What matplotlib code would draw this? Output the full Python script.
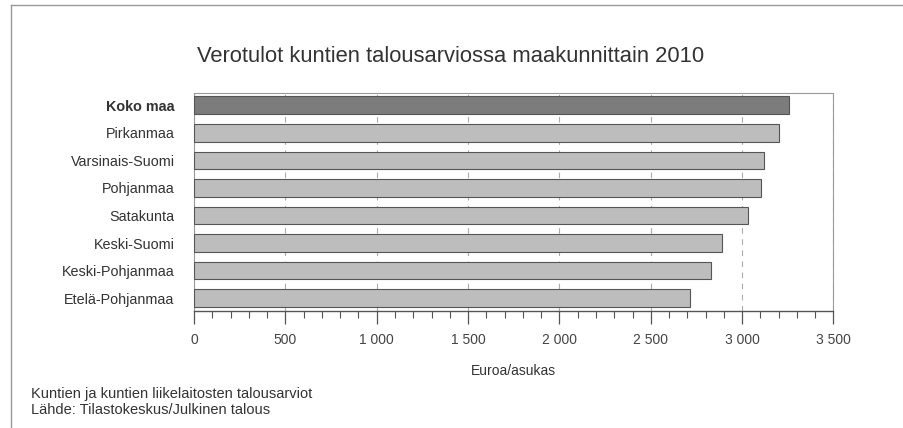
import matplotlib.pyplot as plt
from matplotlib.ticker import MultipleLocator, FuncFormatter
from matplotlib.lines import Line2D

# Data (euroa / asukas)
regions = ['Koko maa', 'Pirkanmaa', 'Varsinais-Suomi', 'Pohjanmaa',
           'Satakunta', 'Keski-Suomi', 'Keski-Pohjanmaa', 'Etelä-Pohjanmaa']
values = [3257, 3200, 3118, 3103, 3032, 2890, 2831, 2714]

title = 'Verotulot kuntien talousarviossa maakunnittain 2010'
xlabel = 'Euroa/asukas'
footer = ['Kuntien ja kuntien liikelaitosten talousarviot',
          'Lähde: Tilastokeskus/Julkinen talous']

plt.rcParams['font.family'] = ['Liberation Sans', 'DejaVu Sans']


def fmt_thousands(x, pos):
    return '{:,.0f}'.format(x).replace(',', ' ')


def main():
    fig = plt.figure(figsize=(9.04, 4.28), dpi=100)
    ax = fig.add_axes([0.2146, 0.274, 0.7074, 0.5093])

    ypos = list(range(len(regions)))
    colors = ['#7c7c7c'] + ['#bdbdbd'] * (len(regions) - 1)
    ax.barh(ypos, values, height=0.65, color=colors, edgecolor='#555555',
            linewidth=0.8, zorder=3)

    ax.set_xlim(0, 3500)
    ax.set_ylim(7.46, -0.46)
    ax.xaxis.set_major_locator(MultipleLocator(500))
    ax.xaxis.set_minor_locator(MultipleLocator(100))
    ax.xaxis.set_major_formatter(FuncFormatter(fmt_thousands))
    ax.grid(axis='x', which='major', color='#aaaaaa', linestyle=(0, (5, 5)),
            linewidth=0.8, zorder=0)

    ax.set_yticks(ypos)
    ax.set_yticklabels(regions, fontsize=10.4, color='#333333')
    ax.get_yticklabels()[0].set_fontweight('bold')
    ax.tick_params(axis='y', length=0, pad=14)
    ax.tick_params(axis='x', which='major', length=9, width=0.9,
                   color='#555555', labelsize=10, labelcolor='#444444', pad=7)
    ax.tick_params(axis='x', which='minor', length=5, width=0.8, color='#555555')

    for side in ['top', 'right', 'left']:
        ax.spines[side].set_color('#999999')
        ax.spines[side].set_linewidth(0.8)
    ax.spines['bottom'].set_color('#555555')
    ax.spines['bottom'].set_linewidth(1.0)

    ax.set_xlabel(xlabel, fontsize=10, color='#333333', labelpad=12)

    fig.text(0.498, 0.867, title, ha='center', va='center',
             fontsize=15.8, color='#333333')
    fig.text(0.034, 1 - 394 / 428, footer[0], ha='left', va='center',
             fontsize=10.5, color='#333333')
    fig.text(0.034, 1 - 410 / 428, footer[1], ha='left', va='center',
             fontsize=10.5, color='#333333')

    # outer frame: only top and left edges are visible
    x0, y_top = 11 / 904, 1 - 5 / 428
    fig.lines.append(Line2D([x0, 1.0], [y_top, y_top], transform=fig.transFigure,
                            color='#999999', linewidth=1.0))
    fig.lines.append(Line2D([x0, x0], [0.0, y_top], transform=fig.transFigure,
                            color='#999999', linewidth=1.0))

    fig.savefig('out.png', dpi=100)


if __name__ == '__main__':
    main()
